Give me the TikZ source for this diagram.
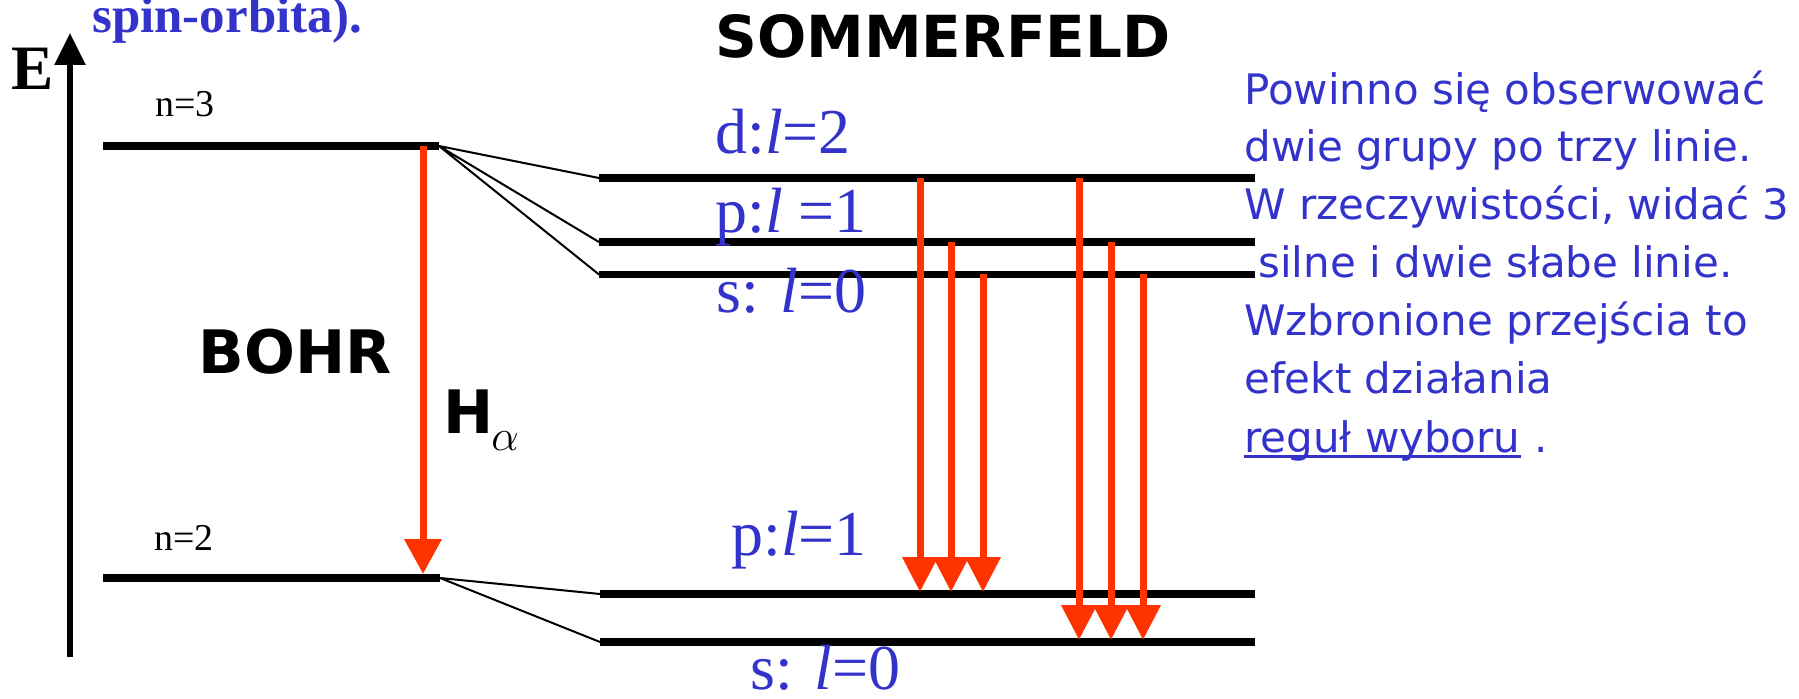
\documentclass[tikz,border=0pt]{standalone}
\usepackage{fontspec}
\setmainfont{Liberation Serif}
\newfontfamily\verd{DejaVu Sans}
\usetikzlibrary{arrows.meta}
\definecolor{lblue}{RGB}{51,51,204}
\definecolor{lred}{RGB}{255,51,0}

\begin{document}
\begin{tikzpicture}[x=0.02cm,y=-0.02cm]
\tikzstyle{every node}=[inner sep=0pt, anchor=base west]
\tikzstyle{level}=[line width=0.16cm]
\tikzstyle{split}=[line width=0.04cm]
\tikzstyle{trans}=[draw=lred, line width=0.14cm, -{Triangle[width=0.68cm,length=0.7cm]}]
\tikzstyle{lbl}=[text=lblue, font=\fontsize{36.4}{40}\selectfont]
\tikzstyle{note}=[text=lblue, font=\verd\fontsize{23.9}{30}\selectfont]
\useasboundingbox (0,0) rectangle (1799,699);

% Bohr levels
\coordinate (n3w) at (103,146); \coordinate (n3e) at (439,146);
\coordinate (n2w) at (103,578); \coordinate (n2e) at (440,578);
% Sommerfeld levels
\coordinate (dw) at (599,178);   \coordinate (de) at (1255,178);
\coordinate (pw) at (599,242);   \coordinate (pe) at (1255,242);
\coordinate (sw) at (599,274.5); \coordinate (se) at (1255,274.5);
\coordinate (plw) at (600,594);  \coordinate (ple) at (1255,594);
\coordinate (slw) at (600,642);  \coordinate (sle) at (1255,642);

\draw [line width=0.11cm, -{Triangle[width=0.6cm,length=0.64cm]}] (70,657) -- (70,33);

\draw [level] (n3w) -- (n3e);
\draw [level] (n2w) -- (n2e);
\foreach \a/\b in {dw/de, pw/pe, sw/se, plw/ple, slw/sle}
  \draw [level] (\a) -- (\b);
\draw [split] (n3e) -- (dw) (n3e) -- (pw) (n3e) -- (sw);
\draw [split] (n2e) -- (plw) (n2e) -- (slw);

% transitions
\coordinate (ha) at (423,0);
\draw [trans, -{Triangle[width=0.72cm,length=0.7cm]}] (ha |- n3w) -- ([yshift=0.08cm]ha |- n2w);
\foreach \x/\from in {920/dw, 951/pw, 983/sw}
  \draw [trans] (\x,0 |- \from) -- ([yshift=0.04cm]\x,0 |- plw);
\foreach \x/\from in {1079/dw, 1111/pw, 1143/sw}
  \draw [trans] (\x,0 |- \from) -- ([yshift=0.04cm]\x,0 |- slw);

\node[text=lblue, font=\bfseries\fontsize{29}{32}\selectfont] (spin) at (92,33) {spin-orbita).};
\node[font=\bfseries\fontsize{36}{38}\selectfont] (E) at (11,90) {E};
\node[font=\fontsize{21.6}{24}\selectfont] (n3) at (155,117) {n=3};
\node[font=\fontsize{21.6}{24}\selectfont] (n2) at (154,550) {n=2};
\node[anchor=base, font=\verd\bfseries\fontsize{34.1}{36}\selectfont] (bohr) at (295,373) {BOHR};
\node[font=\verd\bfseries\fontsize{34.1}{36}\selectfont] (H) at (443,433) {H};
\node[font=\fontsize{24.5}{26}\selectfont] (alpha) at (491,450) {$\alpha$};
\node[font=\verd\bfseries\fontsize{33}{36}\selectfont] (som) at (715,58) {SOMMERFELD};

\node[lbl] (ld) at (715,154) {d:\textit{l}=2};
\node[lbl] (lp) at (715,233) {p:\textit{l} =1};
\node[lbl] (ls) at (716,313) {s: \textit{l}=0};
\node[lbl] (lp2) at (731,555) {p:\textit{l}=1};
\node[lbl] (ls2) at (750,689) {s: \textit{l}=0};

\node[note] (t1) at (1244,105) {Powinno się obserwować};
\node[note] (t2) at (1244,162) {dwie grupy po trzy linie.};
\node[note] (t3) at (1244,220) {W rzeczywistości, widać 3};
\node[note] (t4) at (1258,277) {silne i dwie słabe linie.};
\node[note] (t5) at (1244,336) {Wzbronione przejścia to};
\node[note] (t6) at (1244,393) {efekt działania};
\node[note] (t7) at (1244,452) {reguł wyboru};
\node[note] (t8) at (t7.base east) {\ .};
\draw [lblue, line width=0.06cm] ([yshift=-0.08cm]t7.base west) -- ([yshift=-0.08cm]t7.base east);

\end{tikzpicture}
\end{document}
